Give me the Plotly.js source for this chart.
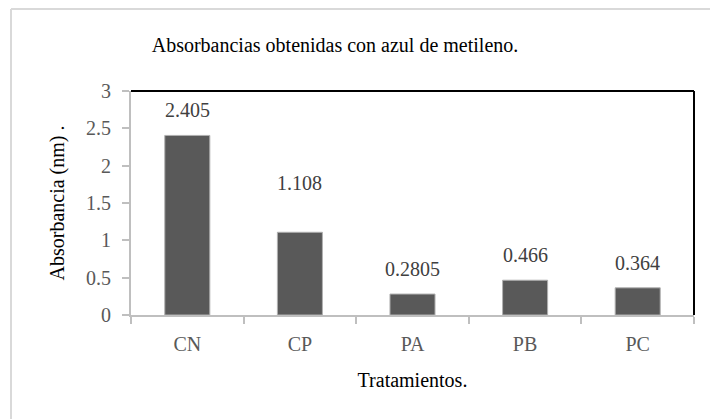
<!DOCTYPE html>
<html>
<head>
<meta charset="utf-8">
<script src="https://cdn.plot.ly/plotly-3.0.1.min.js"></script>
<style>
html,body{margin:0;padding:0;background:#fff;}
#chart{width:710px;height:419px;}
</style>
</head>
<body>
<div id="chart"></div>
<script>
const categories = ["CN", "CP", "PA", "PB", "PC"];
const absorbance = [2.405, 1.108, 0.2805, 0.466, 0.364];
const valueLabels = ["2.405", "1.108", "0.2805", "0.466", "0.364"];
const yTickVals = [0, 0.5, 1, 1.5, 2, 2.5, 3];
const yTickText = ["0", "0.5", "1", "1.5", "2", "2.5", "3"];

const FONT = "'Liberation Serif', 'Times New Roman', serif";
const W = 710, H = 419;
const M = {l: 131, r: 16, t: 91, b: 104};
const pw = W - M.l - M.r, ph = H - M.t - M.b;
const px = x => (x - M.l) / pw;
const py = y => 1 - (y - M.t) / ph;

// label offset above bar top (px); the CP label sits higher in the original
const DEFAULT_LABEL_SHIFT = 25;
const labelShiftOverride = {CP: 49};

const trace = {
  type: "bar",
  x: categories,
  y: absorbance,
  marker: {color: "#595959", line: {color: "#b0b0b0", width: 1}},
  hoverinfo: "none"
};

const labelAnnotations = categories.map((c, i) => ({
  x: c, y: absorbance[i], xref: "x", yref: "y",
  text: valueLabels[i], showarrow: false,
  yanchor: "middle", yshift: labelShiftOverride[c] || DEFAULT_LABEL_SHIFT,
  font: {family: FONT, size: 20, color: "#404040"}
}));

const layout = {
  width: W, height: H,
  margin: M,
  paper_bgcolor: "#fff", plot_bgcolor: "#fff",
  showlegend: false,
  bargap: 0.6,
  font: {family: FONT, size: 20, color: "#595959"},
  title: {
    text: "Absorbancias obtenidas con azul de metileno.",
    font: {family: FONT, size: 20, color: "#000"},
    xref: "container", yref: "container",
    x: 335 / W, xanchor: "center",
    y: 1 - 45 / H, yanchor: "middle"
  },
  xaxis: {
    type: "category",
    tickson: "boundaries",
    ticks: "outside", ticklen: 7, tickwidth: 2, tickcolor: "#bfbfbf",
    showline: true, linecolor: "#bfbfbf", linewidth: 2,
    showgrid: false, zeroline: false,
    tickfont: {family: FONT, size: 20, color: "#595959"},
    ticklabelstandoff: 10,
    title: {text: "Tratamientos.", font: {family: FONT, size: 20, color: "#000"}, standoff: 19},
    fixedrange: true
  },
  yaxis: {
    range: [0, 3],
    tickvals: yTickVals, ticktext: yTickText,
    ticks: "outside", ticklen: 7, tickwidth: 2, tickcolor: "#bfbfbf",
    showline: true, linecolor: "#bfbfbf", linewidth: 2,
    showgrid: false, zeroline: false,
    tickfont: {family: FONT, size: 20, color: "#595959"},
    ticklabelstandoff: 7,
    title: {text: "Absorbancia (nm) .", font: {family: FONT, size: 20, color: "#000"}, standoff: 16},
    fixedrange: true
  },
  annotations: labelAnnotations,
  shapes: [
    {type: "line", xref: "paper", yref: "paper", x0: 0, x1: 1, y0: 1, y1: 1, line: {color: "#000", width: 2}},
    {type: "line", xref: "paper", yref: "paper", x0: 1, x1: 1, y0: 0, y1: 1, line: {color: "#000", width: 2}},
    {type: "line", xref: "paper", yref: "paper", x0: px(11), x1: px(710), y0: py(9), y1: py(9), line: {color: "#d9d9d9", width: 2}},
    {type: "line", xref: "paper", yref: "paper", x0: px(11), x1: px(11), y0: py(9), y1: py(419), line: {color: "#d9d9d9", width: 2}}
  ]
};

Plotly.newPlot("chart", [trace], layout, {displayModeBar: false, staticPlot: true});
</script>
</body>
</html>
